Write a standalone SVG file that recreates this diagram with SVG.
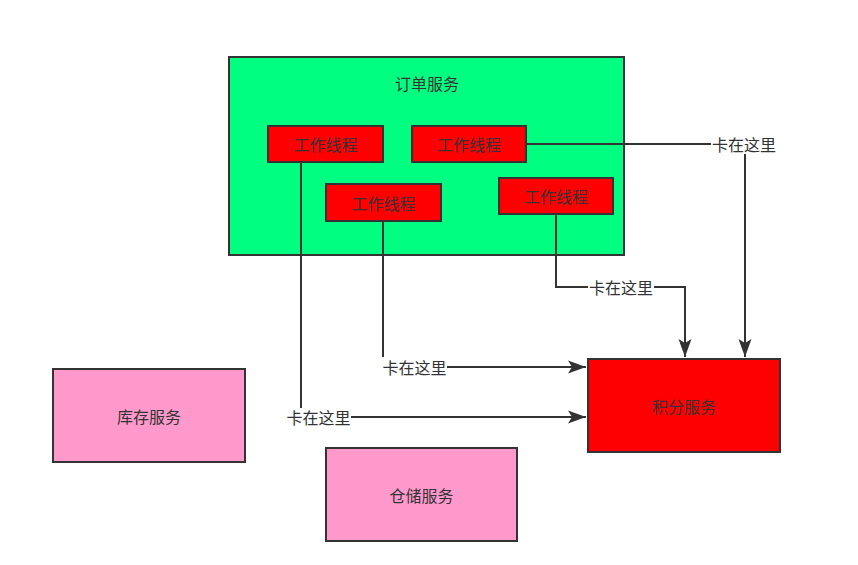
<svg xmlns="http://www.w3.org/2000/svg" width="858" height="565" viewBox="0 0 858 565">
<style>
.box{stroke:#333;stroke-width:2}
.green{fill:#00FF80}
.red{fill:#FF0000}
.pink{fill:#FF99CC}
text{font-family:"Noto Sans CJK SC","Liberation Sans",sans-serif;font-size:16px;fill:#333;text-anchor:middle;dominant-baseline:central}
.edge{fill:none;stroke:#333;stroke-width:2}
.lblbg{fill:#fff}
</style>
<defs>
<marker id="arr" markerUnits="userSpaceOnUse" markerWidth="20" markerHeight="16" viewBox="-18 -7 20 14" refX="0" refY="0" orient="auto">
<path d="M-18,-6.5 L0,0 L-18,6.5 L-14,0 Z" fill="#333"/>
</marker>
</defs>
<rect width="858" height="565" fill="#fff"/>
<g id="order-service">
<rect class="box green" x="229" y="57" width="395" height="198"/>
<text x="427" y="83">订单服务</text>
</g>
<g id="connectors">
<path class="edge" d="M301,162 V417 H586" marker-end="url(#arr)"/>
<path class="edge" d="M383,221 V367 H586" marker-end="url(#arr)"/>
<path class="edge" d="M556,214 V287 H685 V357" marker-end="url(#arr)"/>
<path class="edge" d="M526,144 H745 V357" marker-end="url(#arr)"/>
<rect class="lblbg" x="286" y="408" width="65" height="19"/>
<text x="318.5" y="417">卡在这里</text>
<rect class="lblbg" x="382" y="357" width="65" height="19"/>
<text x="414.5" y="367">卡在这里</text>
<rect class="lblbg" x="588" y="278" width="66" height="19"/>
<text x="621" y="287">卡在这里</text>
<rect class="lblbg" x="711" y="135" width="66" height="19"/>
<text x="744" y="144">卡在这里</text>
</g>
<g id="worker-1">
<rect class="box red" x="268" y="126" width="115" height="36"/>
<text x="325.5" y="144">工作线程</text>
</g>
<g id="worker-2">
<rect class="box red" x="412" y="126" width="114" height="36"/>
<text x="469" y="144">工作线程</text>
</g>
<g id="worker-3">
<rect class="box red" x="326" y="184" width="115" height="37"/>
<text x="383.5" y="202.5">工作线程</text>
</g>
<g id="worker-4">
<rect class="box red" x="499" y="178" width="114" height="36"/>
<text x="556" y="196">工作线程</text>
</g>
<g id="points-service">
<rect class="box red" x="588" y="359" width="192" height="93"/>
<text x="684" y="406">积分服务</text>
</g>
<g id="inventory-service">
<rect class="box pink" x="53" y="369" width="192" height="93"/>
<text x="149" y="416">库存服务</text>
</g>
<g id="warehouse-service">
<rect class="box pink" x="326" y="448" width="191" height="93"/>
<text x="421.5" y="495">仓储服务</text>
</g>
</svg>
